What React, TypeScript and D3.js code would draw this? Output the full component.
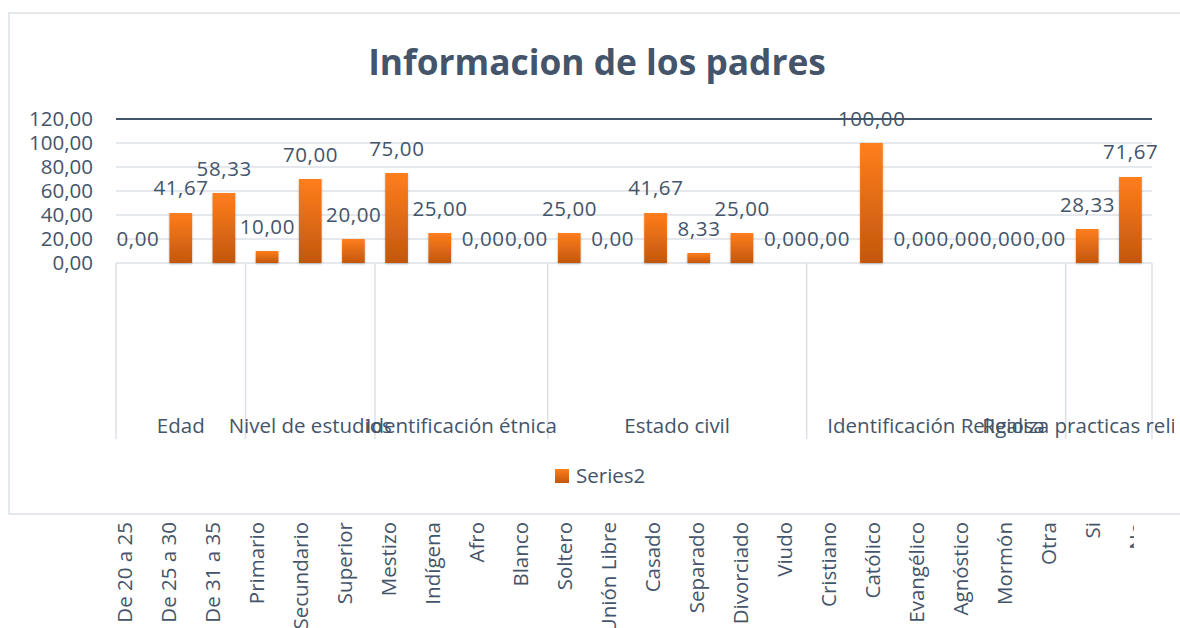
import React from "react";
import * as d3 from "d3";

const categories = [
  "De 20 a 25", "De 25 a 30", "De 31 a 35",
  "Primario", "Secundario", "Superior",
  "Mestizo", "Indígena", "Afro", "Blanco",
  "Soltero", "Unión Libre", "Casado", "Separado", "Divorciado", "Viudo",
  "Cristiano", "Católico", "Evangélico", "Agnóstico", "Mormón", "Otra",
  "Si", "No",
];
const values = [
  0, 41.67, 58.33,
  10, 70, 20,
  75, 25, 0, 0,
  25, 0, 41.67, 8.33, 25, 0,
  0, 100, 0, 0, 0, 0,
  28.33, 71.67,
];
const groupNames = [
  "Edad", "Nivel de estudios", "Identificación étnica", "Estado civil",
  "Identificación Religiosa", "Realiza practicas religiosas",
];
const groupSizes = [3, 3, 4, 6, 6, 2];
const yTicks = [0, 20, 40, 60, 80, 100, 120];
const title = "Informacion de los padres";
const seriesName = "Series2";

const TEXT = "#44546A";
const GRID = "#DCE0E6";
const FONT = "'Open Sans', sans-serif";

const locale = d3.formatLocale({ decimal: ",", thousands: ".", grouping: [3], currency: ["", ""] });
const fmt = locale.format(".2f");

export default function App() {
  const x = d3.scaleBand<string>().domain(categories).range([116, 1152]).paddingInner(0.474).paddingOuter(0.237);
  const y = d3.scaleLinear().domain([0, 120]).range([263, 119]);
  const xl = d3.scalePoint<string>().domain(categories).range([132, 132 + 23 * 44]);
  const step = x.step();
  const x0 = x.range()[0];

  const bounds: number[] = [0];
  groupSizes.forEach((s, i) => bounds.push(bounds[i] + s));

  return (
    <svg width={1180} height={628} style={{ position: "absolute", left: 0, top: 0, background: "#fff" }}>
      <defs>
        <linearGradient id="barGrad" x1="0" y1="0" x2="0" y2="1">
          <stop offset="0" stopColor="#FF7E1C" />
          <stop offset="1" stopColor="#C2570E" />
        </linearGradient>
        <filter id="shadow" x="-30%" y="-10%" width="160%" height="130%">
          <feDropShadow dx="0" dy="1" stdDeviation="1" floodColor="#000" floodOpacity="0.25" />
        </filter>
        <clipPath id="clipBottom">
          <rect x={0} y={515} width={1134} height={113} />
        </clipPath>
        <clipPath id="clipGroups">
          <rect x={0} y={380} width={1174} height={80} />
        </clipPath>
      </defs>

      {/* chart border */}
      <rect x={9} y={13} width={1180} height={501} fill="#fff" stroke={GRID} strokeWidth={1.5} />

      {/* title */}
      <text x={597} y={75} textAnchor="middle" fontFamily={FONT} fontWeight={700} fontSize={35.3} fill={TEXT}>
        {title}
      </text>

      {/* gridlines */}
      {yTicks.map((t) => (
        <line key={t} x1={x0} x2={1152} y1={y(t)} y2={y(t)}
          stroke={t === 120 ? TEXT : GRID} strokeWidth={t === 120 ? 2 : 1.5} />
      ))}

      {/* y tick labels */}
      {yTicks.map((t) => (
        <text key={"yl" + t} x={93} y={y(t)} dy="0.35em" textAnchor="end" fontFamily={FONT} fontSize={20.5} fill={TEXT}>
          {fmt(t)}
        </text>
      ))}

      {/* group separators */}
      {bounds.map((b, i) => (
        <line key={"sep" + i} x1={x0 + b * step} x2={x0 + b * step} y1={y(0)} y2={439} stroke={GRID} strokeWidth={1.5} />
      ))}

      {/* bars */}
      {categories.map((c, i) => (
        <rect key={"bar" + c} x={x(c)} y={y(values[i])} width={x.bandwidth()} height={y(0) - y(values[i])}
          fill="url(#barGrad)" filter="url(#shadow)" />
      ))}

      {/* value labels */}
      {categories.map((c, i) => (
        <text key={"vl" + c} x={(x(c) as number) + x.bandwidth() / 2 + 0.3} y={y(values[i]) - 17.5} textAnchor="middle"
          fontFamily={FONT} fontSize={20.5} letterSpacing={0.6} fill={TEXT}>
          {fmt(values[i])}
        </text>
      ))}

      {/* group labels */}
      <g clipPath="url(#clipGroups)">
        {groupNames.map((g, i) => (
          <text key={"g" + g} x={x0 + ((bounds[i] + bounds[i + 1]) / 2) * step} y={433} textAnchor="middle"
            fontFamily={FONT} fontSize={20.5} fill={TEXT}>
            {g}
          </text>
        ))}
      </g>

      {/* legend */}
      <rect x={555} y={469} width={14} height={14} fill="url(#barGrad)" />
      <text x={576} y={483} fontFamily={FONT} fontSize={20.5} fill={TEXT}>{seriesName}</text>

      {/* rotated category labels */}
      <g clipPath="url(#clipBottom)">
        {categories.map((c) => (
          <text key={"cl" + c} transform={`translate(${xl(c)},522) rotate(-90)`} textAnchor="end"
            fontFamily={FONT} fontSize={20.5} fill={TEXT}>
            {c}
          </text>
        ))}
      </g>
    </svg>
  );
}
